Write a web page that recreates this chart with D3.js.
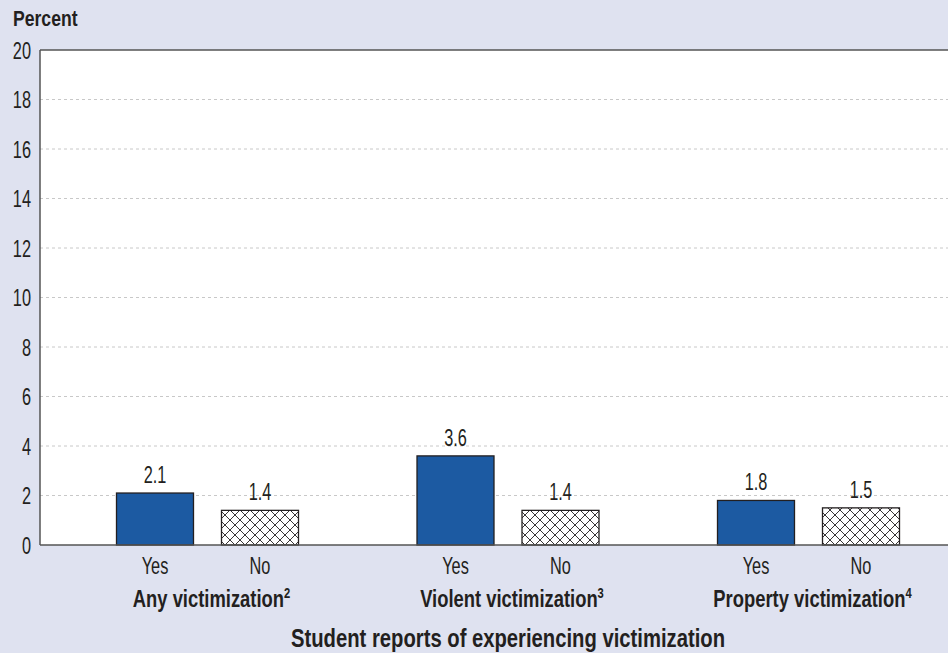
<!DOCTYPE html>
<html><head><meta charset="utf-8">
<script src="https://cdn.jsdelivr.net/npm/d3@7"></script>
<style>
body{margin:0;background:#dfe2f0;}
svg{display:block;}
text{font-family:"Liberation Sans",Arial,sans-serif;fill:#231f20;}
</style></head><body>
<svg id="chart" width="948" height="653"></svg>
<script>
const groups = ["Any victimization", "Violent victimization", "Property victimization"];
const groupNotes = ["2", "3", "4"];
const responses = ["Yes", "No"];
const yesValues = [2.1, 3.6, 1.8];
const noValues = [1.4, 1.4, 1.5];
const yTicks = [0, 2, 4, 6, 8, 10, 12, 14, 16, 18, 20];
const yTitle = "Percent";
const xTitle = "Student reports of experiencing victimization";

(function () {
const W = 948, H = 653;
const mLeft = 40, mRight = 948, mTop = 50, mBottom = 545;
const REG = 0.71, BOLD = 0.80, FS = 23;
const svg = d3.select("#chart");

function place(sel, xf, yf, s) {
  sel.attr("x", 0).attr("y", 0)
    .attr("transform", (d, i) => `translate(${xf(d, i)},${yf(d, i)}) scale(${s},1)`);
}

svg.append("rect").attr("width", W).attr("height", H).attr("fill", "#dfe2f0");

const defs = svg.append("defs");
const pat = defs.append("pattern").attr("id", "hatch")
  .attr("patternUnits", "userSpaceOnUse").attr("width", 10).attr("height", 10);
pat.append("rect").attr("width", 10).attr("height", 10).attr("fill", "#fff");
pat.append("path").attr("d", "M0,0L10,10M10,0L0,10M-1,9L1,11M9,-1L11,1M-1,1L1,-1M9,11L11,9")
  .attr("stroke", "#231f20").attr("stroke-width", 0.9);

const y = d3.scaleLinear().domain([0, 20]).range([mBottom, mTop]);
const xg = d3.scalePoint().domain(groups).range([207.5, 808.5]);
const xr = d3.scaleBand().domain(responses).range([-91, 91]).paddingInner(0.2667);

svg.append("rect").attr("x", mLeft).attr("y", mTop).attr("width", mRight - mLeft).attr("height", mBottom - mTop).attr("fill", "#fff");

svg.append("g").selectAll("line").data(yTicks.filter(d => d > 0 && d < 20)).join("line")
  .attr("x1", mLeft).attr("x2", mRight).attr("y1", d => y(d)).attr("y2", d => y(d))
  .attr("stroke", "#c8c8c8").attr("stroke-width", 1).attr("stroke-dasharray", "3,3");

const yAxis = d3.axisLeft(y).tickValues(yTicks).tickSize(0).tickFormat(d3.format("d"));
const ya = svg.append("g").attr("transform", `translate(${mLeft},0)`).call(yAxis);
ya.select(".domain").remove();
ya.selectAll("text").attr("font-size", FS).attr("fill", "#231f20").attr("dy", "0.36em")
  .style("font-family", '"Liberation Sans",Arial,sans-serif')
  .attr("x", 0).attr("transform", `translate(-9,0) scale(${REG},1)`);

const data = [];
groups.forEach((g, i) => {
  data.push({g, r: "Yes", v: yesValues[i]});
  data.push({g, r: "No", v: noValues[i]});
});
const cx = d => xg(d.g) + xr(d.r) + xr.bandwidth() / 2;

svg.append("g").selectAll("rect").data(data).join("rect")
  .attr("x", d => xg(d.g) + xr(d.r))
  .attr("width", xr.bandwidth())
  .attr("y", d => y(d.v))
  .attr("height", d => y(0) - y(d.v))
  .attr("fill", d => d.r === "Yes" ? "#1c5aa2" : "url(#hatch)")
  .attr("stroke", "#231f20").attr("stroke-width", 1.3);

svg.append("g").selectAll("text").data(data).join("text")
  .attr("text-anchor", "middle").attr("font-size", FS)
  .text(d => d.v.toFixed(1))
  .call(place, cx, d => y(d.v) - 10, REG);

svg.append("line").attr("x1", mLeft).attr("x2", mRight).attr("y1", mTop).attr("y2", mTop).attr("stroke", "#555").attr("stroke-width", 1.5);
svg.append("line").attr("x1", mLeft).attr("x2", mLeft).attr("y1", mTop).attr("y2", mBottom).attr("stroke", "#555").attr("stroke-width", 1.5);
svg.append("line").attr("x1", mLeft).attr("x2", mRight).attr("y1", mBottom).attr("y2", mBottom).attr("stroke", "#555").attr("stroke-width", 1.5);

svg.append("g").selectAll("text").data(data).join("text")
  .attr("text-anchor", "middle").attr("font-size", FS)
  .text(d => d.r)
  .call(place, cx, () => 574, REG);

const gl = svg.append("g").selectAll("text").data(groups).join("text")
  .attr("text-anchor", "middle").attr("font-size", FS).attr("font-weight", "bold")
  .call(place, d => xg(d) + 4, () => 607, BOLD);
gl.append("tspan").text(d => d);
gl.append("tspan").attr("font-size", 14).attr("dy", -9).text((d, i) => groupNotes[i]);

svg.append("text").attr("font-size", 22).attr("font-weight", "bold").text(yTitle)
  .call(place, () => 13, () => 26, BOLD);
svg.append("text").attr("text-anchor", "middle").attr("font-size", 25).attr("font-weight", "bold").text(xTitle)
  .call(place, () => xg(groups[1]), () => 647, 0.81);
})();
</script>
</body></html>
